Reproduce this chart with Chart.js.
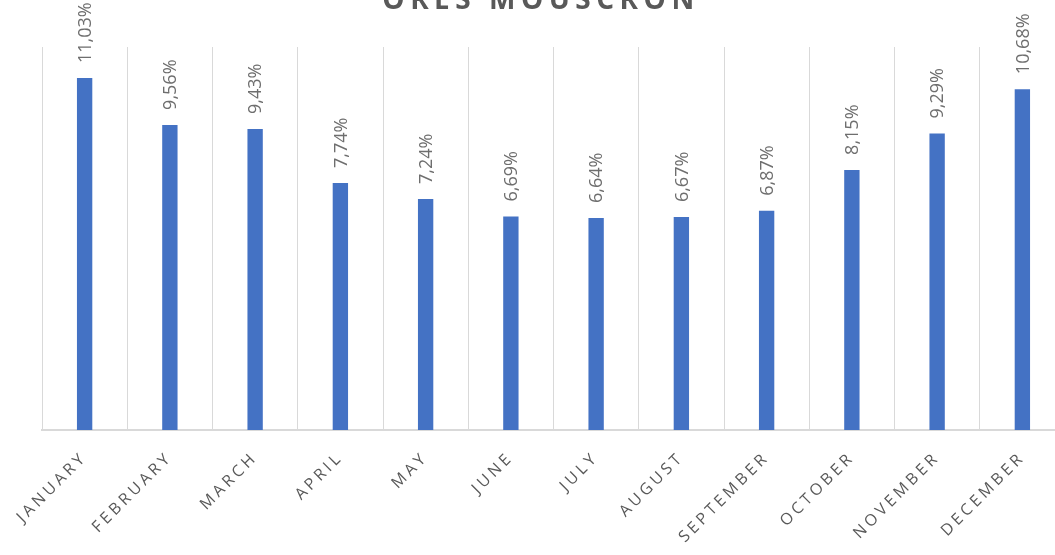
<!DOCTYPE html>
<html>
<head>
<meta charset="utf-8">
<script src="https://cdn.jsdelivr.net/npm/chart.js@4"></script>
<style>
  html, body { margin: 0; padding: 0; background: #fff; overflow: hidden; }
  #wrap { position: relative; width: 1055px; height: 555px; overflow: hidden; }
  #chart { position: absolute; left: 0; top: 0; }
</style>
</head>
<body>
<div id="wrap"><canvas id="chart" width="1070" height="555"></canvas></div>
<script>
const months = ["JANUARY", "FEBRUARY", "MARCH", "APRIL", "MAY", "JUNE", "JULY", "AUGUST", "SEPTEMBER", "OCTOBER", "NOVEMBER", "DECEMBER"];
const shares = [11.03, 9.56, 9.43, 7.74, 7.24, 6.69, 6.64, 6.67, 6.87, 8.15, 9.29, 10.68];
const titleText = "ORES MOUSCRON";

const gray = "#595959";

// title, value labels and slanted month names
const drawExtras = {
    id: "drawExtras",
    afterDraw(chart) {
        const ctx = chart.ctx;
        const x = chart.scales.x;
        const meta = chart.getDatasetMeta(0);

        // title (top half is cut off in the original)
        ctx.save();
        ctx.fillStyle = gray;
        ctx.font = "bold 28px 'Open Sans'";
        ctx.letterSpacing = "5.5px";
        ctx.textAlign = "center";
        ctx.textBaseline = "alphabetic";
        ctx.fillText(titleText, 541, 9);
        ctx.restore();

        // value labels
        ctx.save();
        ctx.fillStyle = "#6e6e6e";
        ctx.font = "18px 'Open Sans'";
        ctx.textAlign = "left";
        ctx.textBaseline = "middle";
        meta.data.forEach((bar, i) => {
            ctx.save();
            ctx.translate(bar.x + 1, bar.y - 15);
            ctx.rotate(-Math.PI / 2);
            ctx.fillText(shares[i].toFixed(2).replace(".", ",") + "%", 0, 0);
            ctx.restore();
        });
        ctx.restore();

        // month labels
        ctx.save();
        ctx.fillStyle = gray;
        ctx.font = "16px 'Open Sans'";
        ctx.letterSpacing = "3.5px";
        ctx.textAlign = "right";
        ctx.textBaseline = "middle";
        months.forEach((m, i) => {
            const px = x.getPixelForValue(i);
            ctx.save();
            ctx.translate(px, chart.chartArea.bottom + 25);
            ctx.rotate(-Math.PI / 4);
            ctx.fillText(m, 0, 0);
            ctx.restore();
        });
        ctx.restore();
    }
};

new Chart(document.getElementById("chart"), {
    type: "bar",
    data: {
        labels: months,
        datasets: [{
            data: shares,
            backgroundColor: "#4472C4",
            borderWidth: 0,
            barPercentage: 0.18,
            categoryPercentage: 1
        }]
    },
    options: {
        responsive: false,
        animation: false,
        devicePixelRatio: 1,
        layout: { padding: { left: 42, right: 5, top: 47, bottom: 125 } },
        plugins: {
            legend: { display: false },
            tooltip: { enabled: false }
        },
        scales: {
            x: {
                grid: { color: "#d9d9d9", lineWidth: 1, drawTicks: false, offset: true },
                border: { color: "#d9d9d9", width: 2 },
                ticks: { display: false }
            },
            y: { display: false, min: 0, max: 12 }
        }
    },
    plugins: [drawExtras]
});
</script>
</body>
</html>
